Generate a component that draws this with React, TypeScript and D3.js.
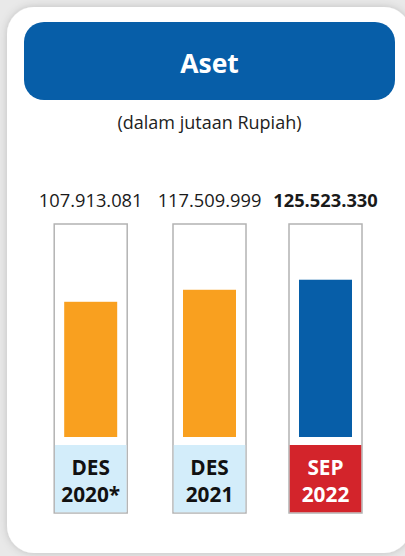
import React from "react";
import * as d3 from "d3";

const categories = ["DES\n2020*", "DES\n2021", "SEP\n2022"];
const values = [107913081, 117509999, 125523330];
const valueLabels = ["107.913.081", "117.509.999", "125.523.330"];
const highlight = [false, false, true];

const W = 405;
const H = 556;

export default function App() {
  const colW = 73;
  const centers = [90.7, 209.5, 325.5];
  const y = d3.scaleLinear().domain([0, 169200000]).range([437, 225]);
  const colTop = 224;
  const colBottom = 513;
  const labelTop = 445;
  const barW = 53;

  return (
    <svg width={W} height={H} style={{ position: "absolute", left: 0, top: 0, fontFamily: "'Open Sans', 'Noto Sans', sans-serif" }}>
      <defs>
        <filter id="sh" x="-10%" y="-10%" width="120%" height="120%">
          <feDropShadow dx="0" dy="0" stdDeviation="4" floodColor="#000" floodOpacity="0.18" />
        </filter>
      </defs>
      <rect x={0} y={0} width={W} height={H} fill="#e9e9e9" />
      <rect x={7} y={7} width={404} height={546} rx={27} fill="#ffffff" filter="url(#sh)" />
      <rect x={24} y={22} width={371} height={78} rx={20} fill="#075ea8" />
      <text x={209.5} y={73} textAnchor="middle" fill="#fff" fontWeight={700} fontSize={26.5}>Aset</text>
      <text x={209.5} y={129} textAnchor="middle" fill="#222" fontSize={18}>(dalam jutaan Rupiah)</text>
      {values.map((v, i) => {
        const cx = centers[i];
        const [l1, l2] = categories[i].split("\n");
        return (
          <g key={i}>
            <text x={cx} y={207} textAnchor="middle" fill="#1a1a1a" fontSize={18.3} fontWeight={highlight[i] ? 700 : 400}>
              {valueLabels[i]}
            </text>
            <rect x={cx - colW / 2} y={colTop} width={colW} height={colBottom - colTop} fill="#fff" stroke="#b3b3b3" strokeWidth={1.5} />
            <rect x={cx - colW / 2 + 0.75} y={labelTop} width={colW - 1.5} height={colBottom - labelTop - 0.75} fill={highlight[i] ? "#d3242b" : "#d3edfa"} />
            <rect x={cx - barW / 2} y={y(v)} width={barW} height={y(0) - y(v)} fill={highlight[i] ? "#075ea8" : "#f9a01f"} />
            <text x={cx} y={475} textAnchor="middle" fontWeight={700} fontSize={20.8} fill={highlight[i] ? "#fff" : "#111"}>{l1}</text>
            <text x={cx} y={502} textAnchor="middle" fontWeight={700} fontSize={20.8} fill={highlight[i] ? "#fff" : "#111"}>{l2}</text>
          </g>
        );
      })}
    </svg>
  );
}
